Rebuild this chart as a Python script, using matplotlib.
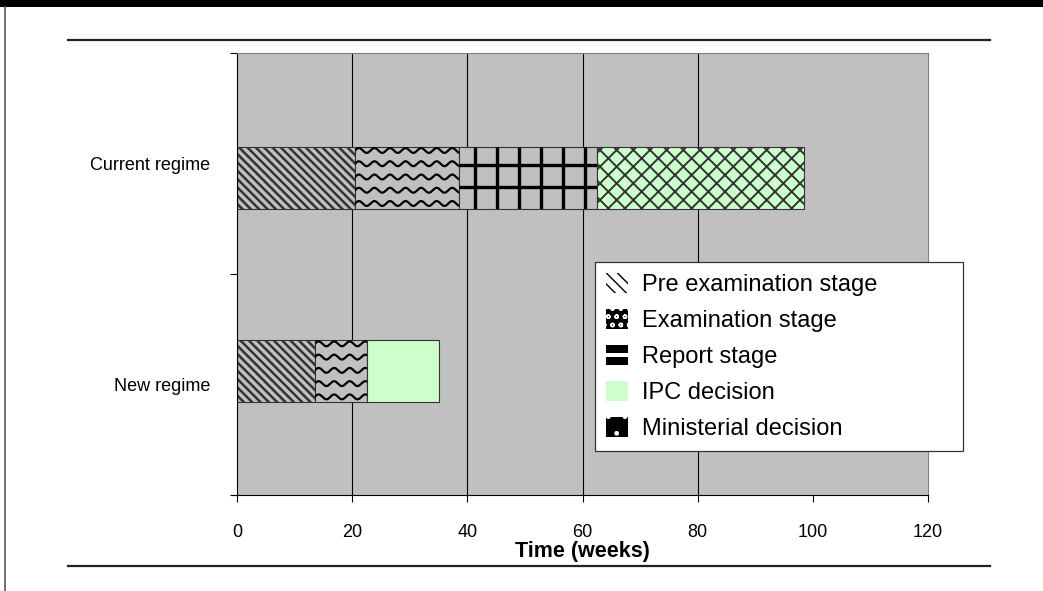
import numpy as np
import matplotlib
matplotlib.use("Agg")
import matplotlib.pyplot as plt
from matplotlib.patches import Patch, Rectangle
from matplotlib.lines import Line2D
from matplotlib.legend_handler import HandlerPatch

plt.rcParams['font.family'] = ['Liberation Sans', 'DejaVu Sans']

# time spent in each stage (weeks)
categories = ['New regime', 'Current regime']
stages = ['Pre examination stage', 'Examination stage', 'Report stage',
          'IPC decision', 'Ministerial decision']
pre_exam = [13.5, 20.5]
exam = [9, 18]
report = [0, 24]
ipc = [12.5, 36]
ministerial = [0, 0]
xticks = [0, 20, 40, 60, 80, 100, 120]
gridlines = [20, 40, 60, 80]

W, H = 1043, 591
fig = plt.figure(figsize=(W / 100, H / 100), dpi=100)
fig.patch.set_facecolor('white')

# page frame: black band on top, rule lines, left border
fig.add_artist(Rectangle((0, 1 - 7 / H), 1, 7 / H, transform=fig.transFigure,
                         facecolor='black', edgecolor='none'))
fig.add_artist(Line2D([5 / W, 5 / W], [0, 1 - 7 / H], transform=fig.transFigure,
                      color='#555555', lw=1.2))
for yy in (40, 566):
    fig.add_artist(Line2D([68 / W, 990 / W], [1 - yy / H] * 2, transform=fig.transFigure,
                          color='#222222', lw=1.6))

ax = fig.add_axes([237 / W, 1 - 495 / H, 691 / W, 442 / H])
ax.set_facecolor('#C0C0C0')
ax.set_xlim(0, 120)
ax.set_ylim(-0.5, 1.5)

for g in gridlines:
    ax.axvline(g, color='black', lw=0.8, zorder=0.5)

ypos = np.arange(len(categories)) + np.array([0.06, -0.065])
bh = 0.28


def set_hatch_lw(p, lw):
    if hasattr(p, 'set_hatch_linewidth'):
        p.set_hatch_linewidth(lw)


def waves(patch, period=2.7, dy=0.06, amp=0.011):
    x0, y0 = patch.get_x(), patch.get_y()
    w, h = patch.get_width(), patch.get_height()
    xs = np.linspace(x0, x0 + w, 400)
    for yc in np.arange(y0 + dy * 0.4, y0 + h + dy, dy):
        ln, = ax.plot(xs, yc + amp * np.sin(2 * np.pi * (xs - x0) / period),
                      color='black', lw=1.6, zorder=3)
        ln.set_clip_path(patch)


def grid_fill(patch, gx=3.8, gy=0.1):
    x0, y0 = patch.get_x(), patch.get_y()
    w, h = patch.get_width(), patch.get_height()
    vl = ax.vlines(np.arange(x0 + 2.9, x0 + w, gx), y0, y0 + h, color='black', lw=2.4, zorder=3)
    hl = ax.hlines(np.arange(y0 + 0.1, y0 + h, gy), x0, x0 + w, color='black', lw=2.4, zorder=3)
    vl.set_clip_path(patch)
    hl.set_clip_path(patch)


left = np.zeros(len(categories))
series = [pre_exam, exam, report, ipc, ministerial]
for k, vals in enumerate(series):
    vals = np.array(vals, dtype=float)
    bars = ax.barh(ypos, vals, bh, left=left, color='#C0C0C0', edgecolor='#333333',
                   lw=0.8, zorder=2)
    for i, p in enumerate(bars.patches):
        if vals[i] == 0:
            p.set_visible(False)
            continue
        if k == 0:
            p.set_hatch('\\\\\\\\')
            set_hatch_lw(p, 1.8)
        elif k == 1:
            waves(p)
        elif k == 2:
            grid_fill(p)
        elif k == 3:
            p.set_facecolor('#CCFFCC')
            if categories[i] == 'Current regime':
                p.set_hatch('xx')
                set_hatch_lw(p, 1.4)
    left += vals

# axes styling
for s in ('top', 'right'):
    ax.spines[s].set_color('#808080')
for s in ('left', 'bottom'):
    ax.spines[s].set_color('black')
ax.set_xticks(xticks)
ax.tick_params(axis='x', length=5, pad=16, labelsize=13, color='black')
ax.set_yticks([-0.5, 0.5, 1.5])
ax.set_yticklabels([])
ax.tick_params(axis='y', which='major', length=5)
ax.set_yticks(range(len(categories)), minor=True)
ax.set_yticklabels(categories, minor=True)
ax.tick_params(axis='y', which='minor', length=0, pad=19, labelsize=13)
ax.set_xlabel('Time (weeks)', fontsize=15.5, fontweight='bold', labelpad=0)


class TwoBarHandler(HandlerPatch):
    # report key: two black bands with a white gap
    def create_artists(self, legend, orig_handle, xdescent, ydescent,
                       width, height, fontsize, trans):
        top = Rectangle((-xdescent, -ydescent + height * 0.58), width, height * 0.42,
                        facecolor='black', edgecolor='none', transform=trans)
        bot = Rectangle((-xdescent, -ydescent), width, height * 0.42,
                        facecolor='black', edgecolor='none', transform=trans)
        return [top, bot]


handles = [
    Patch(facecolor='white', edgecolor='black', hatch='\\\\\\', lw=0),
    Patch(facecolor='black', edgecolor='white', hatch='oo', lw=0),
    Patch(facecolor='white', edgecolor='none'),
    Patch(facecolor='#CCFFCC', edgecolor='none'),
    Patch(facecolor='black', edgecolor='white', hatch='.', lw=0),
]
leg = ax.legend(handles, stages, loc='upper left',
                bbox_to_anchor=(0.518, 0.095, 0.533, 0.432), mode='expand',
                borderaxespad=0, fontsize=17, frameon=True, fancybox=False,
                edgecolor='#333333', framealpha=1, handlelength=0.95, handleheight=0.95,
                handletextpad=0.6, labelspacing=0.54, borderpad=0.45,
                handler_map={handles[2]: TwoBarHandler()})
leg.get_frame().set_linewidth(0.9)

fig.savefig('out.png', dpi=100)
